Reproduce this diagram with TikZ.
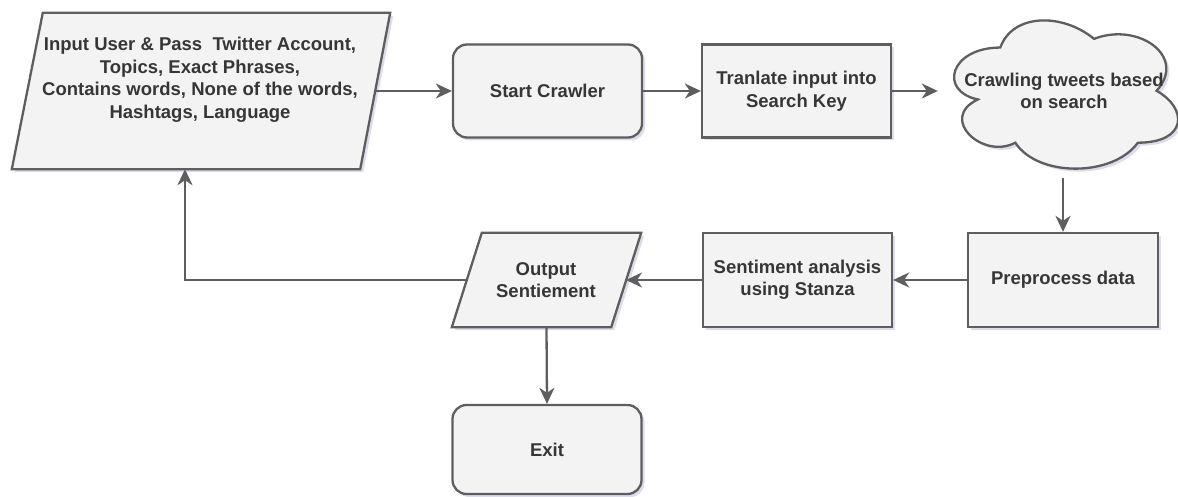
\documentclass[tikz,border=0pt]{standalone}
\usepackage{fontspec}
\setmainfont{Liberation Sans}
\usetikzlibrary{arrows.meta,shadows,calc}
\definecolor{bfill}{HTML}{F3F3F3}
\definecolor{bline}{HTML}{5E5E5E}
\definecolor{btext}{HTML}{363636}
\definecolor{shcol}{HTML}{A8A8D0}
\tikzset{
  shapestyle/.style={fill=bfill, draw=bline, line width=2.3pt,
    drop shadow={shadow xshift=3pt, shadow yshift=-3pt, fill=shcol, opacity=0.4}},
  txt/.style={text=btext, font=\bfseries\fontsize{18.5}{22.5}\selectfont, align=center},
  boxnode/.style={shapestyle, txt, rectangle, minimum width=189pt, minimum height=93pt, inner sep=0pt},
  roundnode/.style={boxnode, rounded corners=14pt},
  framenode/.style={rectangle, draw=none, fill=none, inner sep=0pt},
  conn/.style={draw=bline, line width=2.3pt, -{Stealth[length=16pt,width=15pt,inset=5pt]}},
}
\begin{document}
\begin{tikzpicture}[x=1pt,y=-1pt]
\useasboundingbox (0,0) rectangle (1178,497);
\fill[white] (0,0) rectangle (1178,497);

% input parallelogram
\node[framenode, minimum width=378pt, minimum height=156pt] (in) at (201,91) {};
\path[shapestyle] ([xshift=31pt]in.north west) -- (in.north east)
  -- ([xshift=-30pt]in.south east) -- (in.south west) -- cycle;
\node[txt] (intxt) at (200,80) {Input User \& Pass~ Twitter Account,\\Topics, Exact Phrases,\\Contains words, None of the words,\\Hashtags, Language};

% boxes
\node[roundnode] (sc) at (547.5,91) {Start Crawler};
\node[boxnode] (tr) at (796.5,91) {Tranlate input into\\Search Key};

% cloud
\node[framenode, minimum width=250pt, minimum height=173pt] (cl) at (1063,91) {};
\begin{scope}[shift={(cl.north west)}, x=250pt, y=-173pt]
  \path[shapestyle] (0.25,0.25) .. controls (0.05,0.25) and (0,0.5) .. (0.16,0.55)
    .. controls (0,0.66) and (0.18,0.9) .. (0.31,0.8)
    .. controls (0.4,1) and (0.7,1) .. (0.8,0.8)
    .. controls (1,0.8) and (1,0.6) .. (0.875,0.5)
    .. controls (1,0.3) and (0.8,0.1) .. (0.625,0.2)
    .. controls (0.5,0.05) and (0.3,0.05) .. (0.25,0.25) -- cycle;
\end{scope}
\node[txt] (cltxt) at (1064,91) {Crawling tweets based\\on search};

\node[boxnode, minimum width=190pt, minimum height=94pt] (pp) at (1063,280) {Preprocess data};
\node[boxnode, minimum height=94pt] (sa) at (797.5,280) {Sentiment analysis\\using Stanza};

% output parallelogram
\node[framenode, minimum width=189pt, minimum height=94pt] (out) at (546.5,280) {};
\path[shapestyle] ([xshift=30pt]out.north west) -- (out.north east)
  -- ([xshift=-30pt]out.south east) -- (out.south west) -- cycle;
\node[txt] (outtxt) at (546,280) {Output\\Sentiement};

\node[roundnode, minimum height=89pt] (ex) at (547,449.5) {Exit};

% connector end points on slanted edges
\coordinate (inR) at (374,91);
\coordinate (inB) at ([xshift=-16pt]in.south);
\coordinate (outR) at (626,280);
\coordinate (outL) at (467,280);

\draw[conn] (inR) -- (sc.west);
\draw[conn] (sc.east) -- (tr.west);
\draw[conn] (tr.east) -- (cl.west);
\draw[conn] (cl.south) -- (pp.north);
\draw[conn] (pp.west) -- (sa.east);
\draw[conn] (sa.west) -- (outR);
\draw[conn] (outL) -| (inB);
\draw[conn] (out.south) -- (ex.north);
\end{tikzpicture}
\end{document}
